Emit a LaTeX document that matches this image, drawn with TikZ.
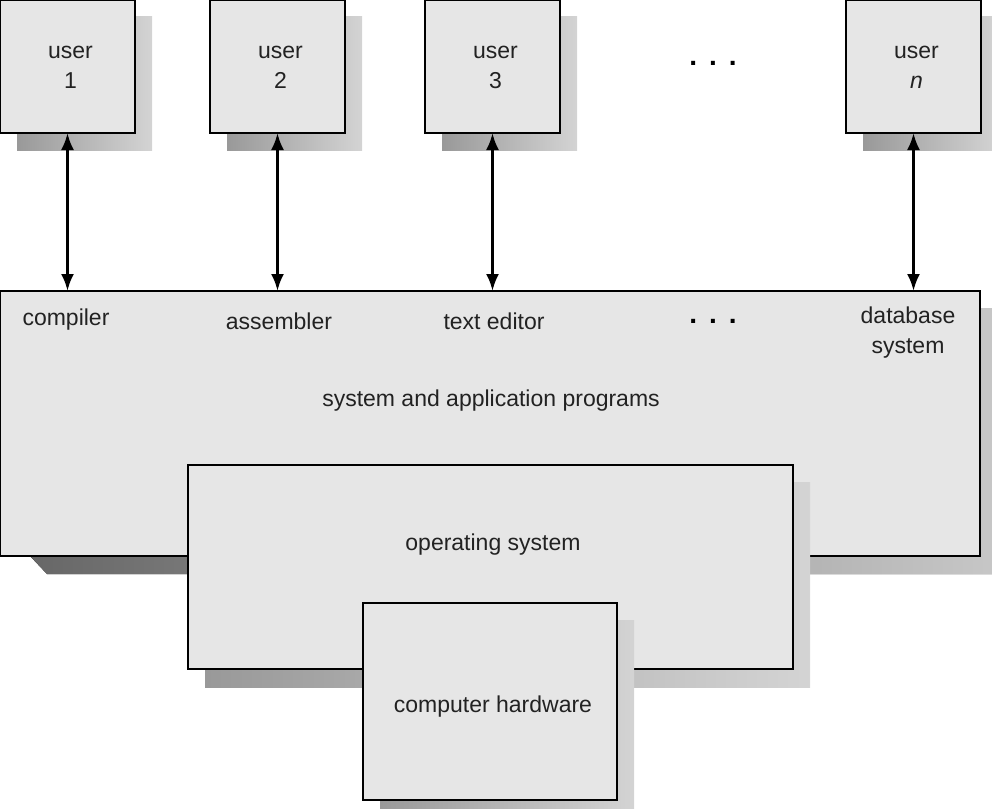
\documentclass[tikz,border=0pt]{standalone}
\usepackage{fontspec}
\setmainfont{Liberation Sans}
\usetikzlibrary{arrows.meta,calc}
\definecolor{boxgray}{HTML}{E6E6E6}
\definecolor{txt}{HTML}{222222}
\begin{document}
\begin{tikzpicture}[x=1pt,y=-1pt,
  box/.style={draw=black, line width=2pt, fill=boxgray, inner sep=0, outer sep=0},
  lbl/.style={font=\fontsize{23}{30}\selectfont, text=txt, align=center, inner sep=0},
  dotlbl/.style={font=\fontsize{28}{30}\selectfont\bfseries, text=black, inner sep=0},
  lightshadow/.style={left color=black!40, right color=black!17},
  darkshadow/.style={left color=black!60, right color=black!22},
  link/.style={line width=2.8pt, {Latex[length=17pt,width=13pt]}-{Latex[length=17pt,width=13pt]}}]
\useasboundingbox (0,0) rectangle (992,808);

% user box shadows
\fill[lightshadow] (17,17) rectangle (152,150);
\fill[lightshadow] (227,17) rectangle (362,150);
\fill[lightshadow] (442,17) rectangle (577,150);
\fill[lightshadow] (863,17) rectangle (998,150);

% user boxes
\node[box, minimum width=135pt, minimum height=133pt] (u1) at (67.5,66.5) {};
\node[box, minimum width=135pt, minimum height=133pt] (u2) at (277.5,66.5) {};
\node[box, minimum width=135pt, minimum height=133pt] (u3) at (492.5,66.5) {};
\node[box, minimum width=135pt, minimum height=133pt] (un) at (913.5,66.5) {};
\node[lbl] (t1) at (70.5,67) {user\\1};
\node[lbl] (t2) at (280.5,67) {user\\2};
\node[lbl] (t3) at (495.5,67) {user\\3};
\node[lbl] (tn) at (916.5,67) {user\\\textit{n}};
\node[dotlbl] (dots1) at (713,63) {.\hspace{12pt}.\hspace{12pt}.};

% application programs box
\fill[darkshadow] (17,308) -- (997,308) -- (997,574) -- (47,574) -- (30,556) -- (17,556) -- cycle;
\node[box, minimum width=980pt, minimum height=265pt] (apps) at (490,423.5) {};
\node[lbl] (comp) at (66,320) {compiler};
\node[lbl] (asm) at (279,321) {assembler};
\node[lbl] (ted) at (494,321) {text editor};
\node[dotlbl] (dots2) at (713,321) {.\hspace{12pt}.\hspace{12pt}.};
\node[lbl] (db) at (908,333) {database\\system};
\node[lbl] (sap) at (491,401) {system and application programs};

% operating system box
\fill[lightshadow] (205,482) rectangle (810,687);
\node[box, minimum width=605pt, minimum height=204pt] (os) at (490.5,567) {};
\node[lbl] (ost) at (493,545) {operating system};

% hardware box
\fill[lightshadow] (380,620) rectangle (634,820);
\node[box, minimum width=254pt, minimum height=197pt] (hw) at (490,701.5) {};
\node[lbl] (hwt) at (493,707) {computer hardware};

% connectors
\draw[link] (u1.south) -- (u1.south |- apps.north);
\draw[link] (u2.south) -- (u2.south |- apps.north);
\draw[link] (u3.south) -- (u3.south |- apps.north);
\draw[link] (un.south) -- (un.south |- apps.north);
\end{tikzpicture}
\end{document}
